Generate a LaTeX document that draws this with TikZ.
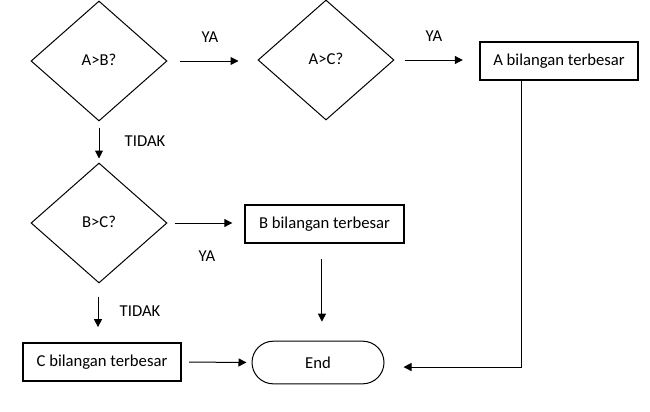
\documentclass[tikz,border=0pt]{standalone}
\usepackage{fontspec}
\setmainfont{Carlito}
\usetikzlibrary{shapes.geometric,arrows.meta,calc}
\begin{document}
\begin{tikzpicture}[x=0.75pt,y=-0.75pt,
  every node/.style={font=\fontsize{12.5}{15}\selectfont},
  decision/.style={draw,diamond,inner sep=0pt,aspect=1.133,minimum width=102pt,minimum height=90pt,line width=0.75pt},
  process/.style={draw,rectangle,line width=1.3pt,minimum width=119pt,minimum height=28.5pt,inner sep=0pt},
  terminal/.style={draw,rectangle,rounded corners=16pt,line width=0.75pt,minimum width=99pt,minimum height=32pt,inner sep=0pt},
  arr/.style={line width=0.75pt,-{Triangle[length=6pt,width=6pt]}},
  lbl/.style={inner sep=0pt}]
\useasboundingbox (0,0) rectangle (650,411);
\node[decision] (d1) at (99,61) {\raisebox{2.5pt}{A>B?}};
\node[decision] (d2) at (326,60) {\raisebox{2.5pt}{A>C?}};
\node[decision] (d3) at (99,223) {\raisebox{2.5pt}{B>C?}};
\node[process] (pa) at (559,61) {A bilangan terbesar};
\node[process] (pb) at (324.5,224) {B bilangan terbesar};
\node[process] (pc) at (102,362) {C bilangan terbesar};
\node[terminal] (end) at (318,362.5) {End};
\node[lbl] (l1) at (210,37.5) {YA};
\node[lbl] (l2) at (434,36) {YA};
\node[lbl] (l3) at (145,141) {TIDAK};
\node[lbl] (l4) at (207,256) {YA};
\node[lbl] (l5) at (140,311) {TIDAK};
\draw[arr,shorten <=9pt,shorten >=14.25pt] (d1.east) -- (d1.east -| d2.west);
\draw[arr,shorten <=7.5pt,shorten >=12pt] (d2.east) -- (d2.east -| pa.west);
\draw[arr,shorten <=4.5pt,shorten >=3pt] (d1.south) -- (d3.north);
\draw[arr,shorten <=5.25pt,shorten >=9pt] (d3.east) -- (d3.east -| pb.west);
\draw[arr,shorten <=11.25pt,shorten >=14.25pt] ([xshift=-1.9pt]pb.south) -- ([xshift=-1.9pt]pb.south |- end.north);
\draw[arr,shorten <=9.75pt,shorten >=11.25pt] ([xshift=-0.75pt]d3.south) -- ([xshift=-0.75pt]d3.south |- pc.north);
\draw[arr,shorten <=5.25pt,shorten >=3.75pt] (pc.east) -- (end.west);
\draw[arr] ([xshift=-28.5pt]pa.south) |- ([xshift=14.25pt,yshift=-3.4pt]end.east);
\end{tikzpicture}
\end{document}
